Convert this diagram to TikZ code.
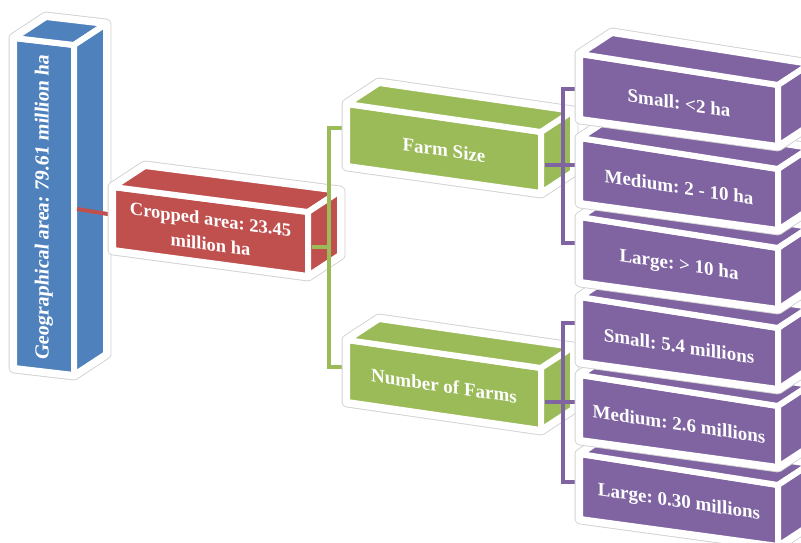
\documentclass[tikz,border=0pt]{standalone}
\usepackage{fontspec}
\setmainfont{Liberation Serif}
\frenchspacing
\definecolor{cblue}{HTML}{4F81BD}
\definecolor{cred}{HTML}{C0504D}
\definecolor{cgreen}{HTML}{9BBB59}
\definecolor{cpurple}{HTML}{8064A2}
\tikzset{
  hullA/.style={draw=black!18, line width=10.8pt, line join=round},
  hullB/.style={draw=white, fill=white, line width=9pt, line join=round},
  face/.style={fill=#1, draw=white, line width=6pt, line join=round},
  lbl/.style={text=white, font=\fontsize{19}{25}\selectfont\bfseries, align=center, inner sep=0pt},
  conn/.style={line width=4pt, draw=#1},
}
% color, xl, tl, bl, xr, tr, br
\newcommand\mycuboid[7]{%
  \path[hullA] (#2,#3) -- ({#2+32},{#3-21}) -- ({#5+32},{#6-21}) -- ({#5+32},{#7-21}) -- (#5,#7) -- (#2,#4) -- cycle;
  \path[hullB] (#2,#3) -- ({#2+32},{#3-21}) -- ({#5+32},{#6-21}) -- ({#5+32},{#7-21}) -- (#5,#7) -- (#2,#4) -- cycle;
  \path[face=#1] (#2,#3) -- (#5,#6) -- (#5,#7) -- (#2,#4) -- cycle;
  \path[face=#1] (#2,#3) -- ({#2+32},{#3-21}) -- ({#5+32},{#6-21}) -- (#5,#6) -- cycle;
  \path[face=#1] (#5,#6) -- ({#5+32},{#6-21}) -- ({#5+32},{#7-21}) -- (#5,#7) -- cycle;
}
\newcommand\purplebox[3]{% name, t, text
  \mycuboid{cpurple}{580}{#2-3}{#2+62}{778}{#2+28}{#2+89}
  \node[lbl, yslant=-0.15] (#1) at (679,{#2+46}) {#3};
}
\begin{document}
\begin{tikzpicture}[x=1pt,y=-1pt]
\useasboundingbox (0,0) rectangle (801,542);
\clip (0,0) rectangle (801,542);

% level 1
\mycuboid{cblue}{14}{38}{368}{74}{45}{375}
\node[lbl, font=\fontsize{20}{24}\selectfont\bfseries, yslant=-0.13, rotate=90] (geo) at (44,207.5) {Geographical area: 79.61 million ha};

% connector blue -> red
\coordinate (b1) at (77,209);
\coordinate (r1) at (120,216);
\draw[conn=cred] (b1) -- (r1);

% level 2
\mycuboid{cred}{113}{187}{250}{308}{212}{276}
\node[lbl, font=\fontsize{18.5}{25}\selectfont\bfseries, yslant=-0.135] (crop) at (210.5,232) {Cropped area: 23.45\\million ha};

% connectors red -> green
\coordinate (r2) at (312,247);
\coordinate (gv) at (329,247);
\coordinate (gt) at (354,128);
\coordinate (gb) at (354,367);
\draw[conn=cgreen] (r2) -- (gv);
\draw[conn=cgreen] (gt) -- (gt -| gv) -- (gb -| gv) -- (gb);

% level 3
\mycuboid{cgreen}{347}{104}{166}{541}{132}{193}
\node[lbl, yslant=-0.147] (fs) at (444,150) {Farm Size};
\mycuboid{cgreen}{347}{340}{402}{541}{368}{430}
\node[lbl, yslant=-0.147] (nf) at (444,386) {Number of Farms};

% connectors green -> purple
\coordinate (s1) at (545,165);
\coordinate (m1) at (585,165);
\coordinate (v1) at (563,165);
\coordinate (t1) at (585,89);
\coordinate (e1) at (585,243);
\draw[conn=cpurple] (s1) -- (m1);
\draw[conn=cpurple] (t1) -- (t1 -| v1) -- (e1 -| v1) -- (e1);
\coordinate (s2) at (545,402);
\coordinate (m2) at (585,402);
\coordinate (v2) at (563,402);
\coordinate (t2) at (585,323);
\coordinate (e2) at (585,482);
\draw[conn=cpurple] (s2) -- (m2);
\draw[conn=cpurple] (t2) -- (t2 -| v2) -- (e2 -| v2) -- (e2);

% level 4
\purplebox{p6}{457}{Large: 0.30 millions}
\purplebox{p5}{378}{Medium: 2.6 millions}
\purplebox{p4}{300}{Small: 5.4 millions}
\purplebox{p3}{220}{Large: > 10 ha}
\purplebox{p2}{141}{Medium: 2 - 10 ha}
\purplebox{p1}{57}{Small: <2 ha}
\end{tikzpicture}
\end{document}
